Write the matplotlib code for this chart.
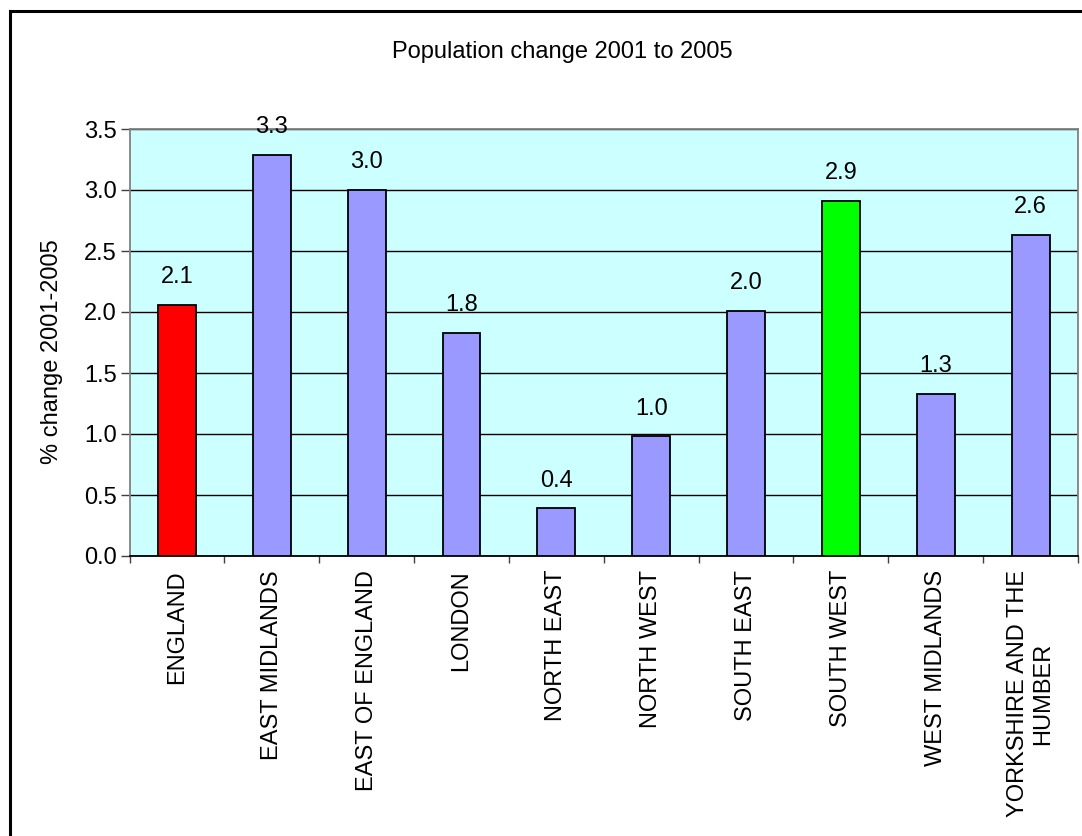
# Population change 2001 to 2005 by English region
import numpy as np
import matplotlib.pyplot as plt
from matplotlib.patches import Rectangle

plt.rcParams['font.family'] = ['Liberation Sans', 'DejaVu Sans']

# data
regions = ["ENGLAND", "EAST MIDLANDS", "EAST OF ENGLAND", "LONDON", "NORTH EAST",
           "NORTH WEST", "SOUTH EAST", "SOUTH WEST", "WEST MIDLANDS",
           "YORKSHIRE AND THE\nHUMBER"]
pct_change = [2.06, 3.29, 3.00, 1.83, 0.39, 0.98, 2.01, 2.91, 1.33, 2.63]
y_ticks = [0.0, 0.5, 1.0, 1.5, 2.0, 2.5, 3.0, 3.5]

bar_colors = ["#FF0000"] + ["#9999FF"] * 6 + ["#00FF00"] + ["#9999FF"] * 2

W, H = 1082, 836
FS = 17
fig = plt.figure(figsize=(W / 100, H / 100), dpi=100)
fig.patch.set_facecolor("white")

# outer chart frame (runs off the right and bottom edges)
fig.patches.append(Rectangle((10 / W, -0.2), 1.5, 1.2 - 11 / H,
                             transform=fig.transFigure, fill=False,
                             edgecolor="black", linewidth=2.2))

ax = fig.add_axes([129.5 / W, 1 - 556 / H, (1078 - 129.5) / W, (556 - 129) / H])
ax.set_facecolor("#CCFFFF")

x = np.arange(len(regions))
bars = ax.bar(x, pct_change, width=0.4, color=bar_colors, edgecolor="black",
              linewidth=1.3, zorder=3)
ax.bar_label(bars, fmt="%.1f", padding=12, fontsize=FS)

ax.set_xlim(-0.5, len(regions) - 0.5)
ax.set_ylim(0, 3.5)
ax.set_yticks(y_ticks)
ax.set_yticklabels([f"{v:.1f}" for v in y_ticks], fontsize=FS)
ax.yaxis.grid(True, color="black", linewidth=1.0, zorder=1)
ax.set_axisbelow(True)

ax.set_xticks(x)
ax.set_xticklabels(regions, rotation=90, fontsize=FS, va="top",
                   ha="center", multialignment="center")
ax.tick_params(axis="x", which="major", length=0, pad=10)
ax.set_xticks(np.arange(len(regions) + 1) - 0.5, minor=True)
ax.tick_params(axis="x", which="minor", length=5.2, width=1, color="#404040")
ax.tick_params(axis="y", length=6.3, width=1, pad=3, color="#404040")

for side in ["top", "right", "left"]:
    ax.spines[side].set_color("#808080")
    ax.spines[side].set_linewidth(1.3)
ax.spines["bottom"].set_color("black")
ax.spines["bottom"].set_linewidth(1.3)

fig.text(52 / W, 1 - 352 / H, "% change 2001-2005", rotation=90,
         ha="center", va="center", fontsize=FS)
fig.text(562 / W, 1 - 52 / H, "Population change 2001 to 2005",
         ha="center", va="center", fontsize=FS)

fig.savefig("out.png", dpi=100)
